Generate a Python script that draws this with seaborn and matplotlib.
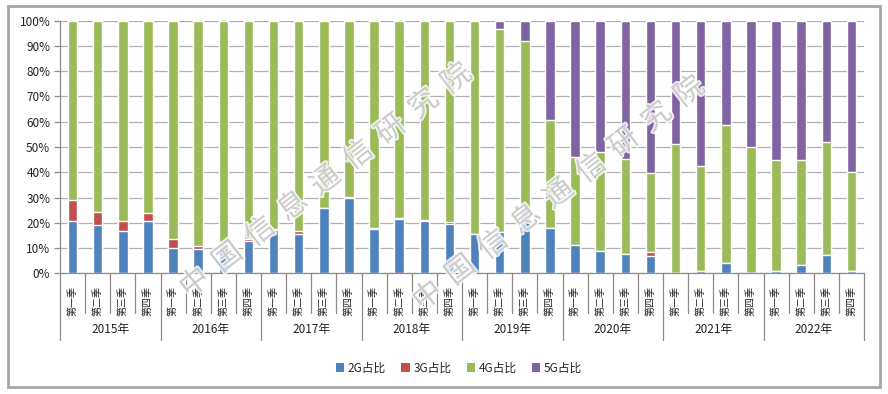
import numpy as np
import pandas as pd
import matplotlib
matplotlib.use("Agg")
import matplotlib.pyplot as plt
import matplotlib.patheffects as pe
from matplotlib.patches import Patch, Rectangle
from matplotlib.ticker import FuncFormatter
import seaborn as sns

sns.set_theme(style="white")
plt.rcParams["font.family"] = ["Noto Sans CJK SC", "DejaVu Sans"]

years = ["2015年", "2016年", "2017年", "2018年", "2019年", "2020年", "2021年", "2022年"]
quarters = ["第一季", "第二季", "第三季", "第四季"]

# shares in percent
share_2g = [20.7, 19.1, 16.7, 20.7, 10.1, 9.6, 11.7, 12.8,
            17.1, 15.7, 25.8, 29.9, 17.6, 21.6, 20.8, 19.6,
            15.6, 16.5, 25.8, 17.9, 11.2, 8.9, 7.6, 6.8,
            0.0, 0.9, 4.1, 0.0, 0.9, 3.3, 7.2, 0.9]
share_3g = [8.3, 5.2, 4.0, 3.2, 3.6, 1.2, 0.7, 0.8,
            0.4, 1.0, 0.2, 0.4, 0.4, 0.4, 0.4, 0.8,
            0.0, 0.0, 0.0, 0.0, 0.0, 0.0, 0.0, 1.6,
            0.0, 0.0, 0.0, 0.0, 0.0, 0.0, 0.0, 0.0]
share_4g = [71.0, 75.7, 79.3, 76.1, 86.3, 89.2, 87.6, 86.4,
            82.5, 83.3, 74.0, 69.7, 82.0, 78.0, 78.8, 79.6,
            84.4, 80.2, 66.1, 42.7, 34.8, 39.1, 37.6, 31.3,
            51.2, 41.6, 54.6, 50.0, 43.9, 41.5, 44.8, 39.2]
share_5g = [0.0, 0.0, 0.0, 0.0, 0.0, 0.0, 0.0, 0.0,
            0.0, 0.0, 0.0, 0.0, 0.0, 0.0, 0.0, 0.0,
            0.0, 3.3, 8.1, 39.4, 54.0, 52.0, 54.8, 60.3,
            48.8, 57.5, 41.3, 50.0, 55.2, 55.2, 48.0, 59.9]

series_names = ["2G占比", "3G占比", "4G占比", "5G占比"]
colors = ["#4f81bd", "#c0504d", "#9bbb59", "#8064a2"]
watermark = "中国信息通信研究院"

keys = [f"{y}{q}" for y in years for q in quarters]
df = pd.DataFrame({"key": keys, "2G": share_2g, "3G": share_3g,
                   "4G": share_4g, "5G": share_5g})
cols = ["2G", "3G", "4G", "5G"]
cum = df[cols].cumsum(axis=1) / 100.0

W, H = 888, 394
fig = plt.figure(figsize=(W / 100, H / 100), dpi=100)
left, right, top, bottom = 60, 864, 20.7, 273.3
ax = fig.add_axes([left / W, 1 - bottom / H, (right - left) / W, (bottom - top) / H])

# draw stacked bars from the top layer down
for col, c in zip(reversed(cols), reversed(colors)):
    sns.barplot(x=df["key"], y=cum[col], color=c, saturation=1, width=0.38,
                ax=ax, order=keys, zorder=2)

ax.set_xlim(-0.5, len(keys) - 0.5)
ax.set_ylim(0, 1)
ax.set_yticks(np.arange(0, 1.01, 0.1))
ax.yaxis.set_major_formatter(FuncFormatter(lambda v, p: f"{v * 100:.0f}%"))
ax.grid(axis="y", color="#b0b0b0", lw=0.9)
ax.set_axisbelow(True)
ax.set_xlabel("")
ax.set_ylabel("")
for s in ["top", "right"]:
    ax.spines[s].set_visible(False)
for s in ["left", "bottom"]:
    ax.spines[s].set_color("#8c8c8c")
    ax.spines[s].set_linewidth(0.9)
ax.tick_params(axis="y", left=True, length=4, width=0.9, color="#8c8c8c",
               labelsize=8.5, pad=3, labelcolor="#222222")

ax.set_xticks(range(len(keys)))
ax.set_xticklabels([q for y in years for q in quarters], rotation=90,
                   fontsize=7.2, color="#222222")
ax.tick_params(axis="x", bottom=False, pad=3)

# category separators below the axis
ph = bottom - top
trans = ax.get_xaxis_transform()
for k in range(len(keys) + 1):
    depth = 67 if k % 4 == 0 else 40
    ax.plot([k - 0.5, k - 0.5], [0, -depth / ph], transform=trans,
            color="#8c8c8c", lw=0.9, clip_on=False)
for i, y in enumerate(years):
    ax.text(4 * i + 1.5, -(330 - bottom) / ph, y, transform=trans,
            ha="center", va="center", fontsize=8.5, color="#222222")

# watermark, one character at a time along a diagonal
ang = np.deg2rad(38)
step = 41.5
for cx, cy in [(326, 181), (559, 194)]:
    for i, ch in enumerate(watermark):
        d = (i - 4) * step
        px = cx + d * np.cos(ang)
        py = cy - d * np.sin(ang)
        fig.text(px / W, 1 - py / H, ch, rotation=38, ha="center", va="center",
                 fontsize=21, color="#c4c4c4", alpha=0.85, zorder=10,
                 path_effects=[pe.withStroke(linewidth=2.5, foreground="white")])

handles = [Patch(facecolor=c, edgecolor="none") for c in colors]
fig.legend(handles, series_names, loc="center", ncol=4,
           bbox_to_anchor=(459 / W, 1 - 368 / H), frameon=False,
           fontsize=8.5, handlelength=0.7, handleheight=0.7,
           handletextpad=0.3, columnspacing=1.3)

fig.patches.append(Rectangle((8 / W, 1 - 387 / H), 872 / W, 381 / H,
                             transform=fig.transFigure, fill=False,
                             edgecolor="#a6a6a6", lw=2))

fig.savefig("out.png", dpi=100)
